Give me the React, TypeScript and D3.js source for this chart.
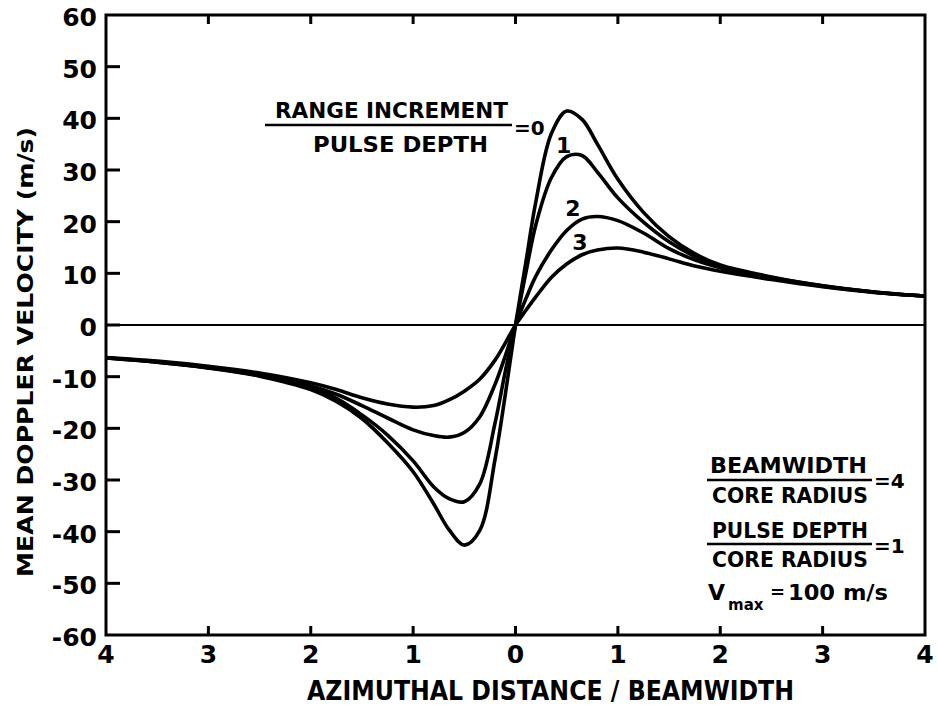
import React from "react";
import * as d3 from "d3";

const xs = [-4, -3.5, -3, -2.5, -2, -1.75, -1.5, -1.25, -1, -0.8, -0.65, -0.5, -0.35, -0.2, -0.1, 0, 0.1, 0.2, 0.35, 0.5, 0.65, 0.8, 1, 1.25, 1.5, 1.75, 2, 2.5, 3, 3.5, 4];

const ratio0 = [-6.4, -7.2, -8.3, -9.9, -12.5, -14.8, -18.1, -22.8, -28.4, -34.6, -39.6, -42.6, -39.8, -26, -13.5, 0, 12, 24, 37, 41.4, 39.8, 35.0, 28.2, 21.8, 17.1, 13.8, 11.6, 9.3, 7.6, 6.4, 5.6];
const ratio1 = [-6.4, -7.2, -8.3, -9.8, -12.2, -14.2, -17.4, -21.3, -26.3, -31.3, -33.6, -34.2, -30.8, -19, -9, 0, 10, 19.5, 28.5, 32.6, 32.8, 29.6, 24.6, 19.9, 16.1, 13.3, 11.4, 9.2, 7.6, 6.4, 5.6];
const ratio2 = [-6.4, -7.1, -8.2, -9.6, -11.8, -13.4, -15.6, -18, -20.3, -21.4, -21.7, -20.8, -17.8, -11.5, -6, 0, 5, 9.5, 14.5, 18.3, 20.5, 21, 20.2, 17.8, 14.8, 12.6, 11.1, 9.1, 7.5, 6.4, 5.6];
const ratio3 = [-6.3, -7.0, -8.0, -9.3, -11.2, -12.5, -14.1, -15.3, -15.9, -15.6, -14.5, -12.8, -10.5, -6.8, -3.5, 0, 2.8, 5.5, 9.2, 11.8, 13.6, 14.5, 14.9, 14.1, 12.8, 11.4, 10.4, 8.8, 7.4, 6.3, 5.6];

const seriesList = [ratio0, ratio1, ratio2, ratio3];
const curveLabels = ["1", "2", "3"];
const curveLabelPos = [[0.47, 33.3], [0.56, 21.1], [0.63, 14.5]];

const xTicks = [-4, -3, -2, -1, 0, 1, 2, 3, 4];
const xTickLabels = ["4", "3", "2", "1", "0", "1", "2", "3", "4"];
const yTicks = [60, 50, 40, 30, 20, 10, 0, -10, -20, -30, -40, -50, -60];

const W = 937, H = 709;
const FONT = "'DejaVu Sans', sans-serif";

export default function App() {
  const x = d3.scaleLinear().domain([-4, 4]).range([106, 925]);
  const y = d3.scaleLinear().domain([-60, 60]).range([635, 15]);
  const line = d3
    .line<number>()
    .x((_, i) => x(xs[i]))
    .y((d) => y(d))
    .curve(d3.curveCatmullRom.alpha(0.5));

  const x0 = x.range()[0], x1 = x.range()[1];
  const yTop = y.range()[1], yBot = y.range()[0];

  return (
    <svg width={W} height={H} style={{ position: "absolute", left: 0, top: 0, background: "#fff" }}>
      <rect x={0} y={0} width={W} height={H} fill="#fff" />
      {/* zero line */}
      <line x1={x0} x2={x1} y1={y(0)} y2={y(0)} stroke="#000" strokeWidth={2} />
      {/* curves */}
      {seriesList.map((s, i) => (
        <path key={i} d={line(s) || ""} fill="none" stroke="#000" strokeWidth={3.6} strokeLinejoin="round" />
      ))}
      {/* frame */}
      <rect x={x0} y={yTop} width={x1 - x0} height={yBot - yTop} fill="none" stroke="#000" strokeWidth={3} />
      {/* y ticks */}
      {yTicks.map((t) => (
        <g key={"y" + t}>
          {t !== 60 && t !== -60 && (
            <line x1={x0} x2={x0 + 14} y1={y(t)} y2={y(t)} stroke="#000" strokeWidth={3} />
          )}
          <text x={97} y={y(t) + 11} textAnchor="end" fontFamily={FONT} fontWeight="bold" fontSize={25} fill="#000">
            {t < 0 ? "-" + Math.abs(t) : String(t)}
          </text>
        </g>
      ))}
      {/* x ticks */}
      {xTicks.map((t, i) => (
        <g key={"x" + t}>
          {t !== -4 && t !== 4 && (
            <>
              <line x1={x(t)} x2={x(t)} y1={yBot} y2={yBot - 9} stroke="#000" strokeWidth={3} />
              <line x1={x(t)} x2={x(t)} y1={yTop} y2={yTop + 9} stroke="#000" strokeWidth={3} />
            </>
          )}
          <text x={x(t)} y={663} textAnchor="middle" fontFamily={FONT} fontWeight="bold" fontSize={25} fill="#000">
            {xTickLabels[i]}
          </text>
        </g>
      ))}
      {/* axis titles */}
      <text x={307} y={700} textLength={487} lengthAdjust="spacingAndGlyphs" fontFamily={FONT} fontWeight="bold" fontSize={26} fill="#000">
        AZIMUTHAL  DISTANCE / BEAMWIDTH
      </text>
      <text
        transform="translate(33,352) rotate(-90)"
        textAnchor="middle"
        textLength={450}
        lengthAdjust="spacingAndGlyphs"
        fontFamily={FONT}
        fontWeight="bold"
        fontSize={22}
        fill="#000"
      >
        MEAN DOPPLER VELOCITY (m/s)
      </text>
      {/* top-left annotation */}
      <text x={275} y={118} textLength={233} lengthAdjust="spacingAndGlyphs" fontFamily={FONT} fontWeight="bold" fontSize={22} fill="#000">
        RANGE  INCREMENT
      </text>
      <line x1={265} x2={512} y1={125} y2={125} stroke="#000" strokeWidth={2.5} />
      <text x={313} y={152} textLength={175} lengthAdjust="spacingAndGlyphs" fontFamily={FONT} fontWeight="bold" fontSize={22} fill="#000">
        PULSE  DEPTH
      </text>
      <text x={514} y={135} fontFamily={FONT} fontWeight="bold" fontSize={20} fill="#000">=0</text>
      {curveLabels.map((l, i) => (
        <text key={l} x={x(curveLabelPos[i][0])} y={y(curveLabelPos[i][1])} textAnchor="middle" fontFamily={FONT} fontWeight="bold" fontSize={22} fill="#000">
          {l}
        </text>
      ))}
      {/* bottom-right annotation */}
      <text x={710} y={473} textLength={157} lengthAdjust="spacingAndGlyphs" fontFamily={FONT} fontWeight="bold" fontSize={22} fill="#000">
        BEAMWIDTH
      </text>
      <line x1={707} x2={872} y1={480} y2={480} stroke="#000" strokeWidth={2.5} />
      <text x={712} y={503} textLength={156} lengthAdjust="spacingAndGlyphs" fontFamily={FONT} fontWeight="bold" fontSize={22} fill="#000">
        CORE RADIUS
      </text>
      <text x={874} y={488} fontFamily={FONT} fontWeight="bold" fontSize={20} fill="#000">=4</text>
      <text x={712} y={538} textLength={156} lengthAdjust="spacingAndGlyphs" fontFamily={FONT} fontWeight="bold" fontSize={22} fill="#000">
        PULSE DEPTH
      </text>
      <line x1={707} x2={872} y1={544} y2={544} stroke="#000" strokeWidth={2.5} />
      <text x={712} y={567} textLength={156} lengthAdjust="spacingAndGlyphs" fontFamily={FONT} fontWeight="bold" fontSize={22} fill="#000">
        CORE RADIUS
      </text>
      <text x={874} y={553} fontFamily={FONT} fontWeight="bold" fontSize={20} fill="#000">=1</text>
      <text x={708} y={600} fontFamily={FONT} fontWeight="bold" fontSize={22} fill="#000">V</text>
      <text x={728} y={610} fontFamily={FONT} fontWeight="bold" fontSize={15} fill="#000">max</text>
      <text x={770} y={598} fontFamily={FONT} fontWeight="bold" fontSize={18} fill="#000">=</text>
      <text x={788} y={600} textLength={100} lengthAdjust="spacingAndGlyphs" fontFamily={FONT} fontWeight="bold" fontSize={22} fill="#000">
        100 m/s
      </text>
    </svg>
  );
}
